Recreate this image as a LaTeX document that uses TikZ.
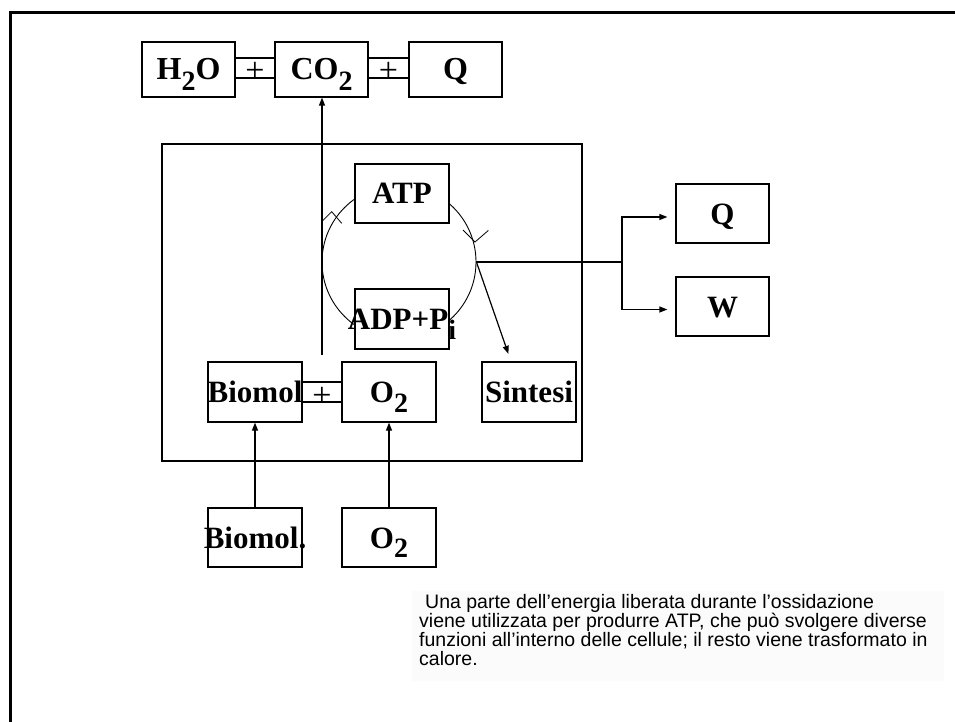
\documentclass[tikz,border=0pt]{standalone}
\usepackage{fontspec}
\setmainfont{Liberation Serif}
\newfontfamily\notefont{Liberation Sans}
\usetikzlibrary{arrows.meta}
\newcommand{\sbx}[1]{\raisebox{-0.32em}{\fontsize{28}{28}\selectfont #1}}
\begin{document}
\begin{tikzpicture}[x=1pt,y=-1pt,
  bx/.style={draw, fill=white, line width=1.2pt, inner sep=0pt, minimum width=94pt, minimum height=60pt,
    text height=21pt, text depth=0pt, font=\fontsize{31}{31}\selectfont\bfseries},
  tbx/.style={bx, minimum width=93pt, minimum height=55pt, text height=21pt,
    font=\fontsize{32}{32}\selectfont\bfseries},
  plusbx/.style={draw, fill=white, line width=1.2pt, inner sep=0pt, minimum height=20pt,
    text height=15pt, text depth=0pt, font=\fontsize{34}{34}\selectfont},
  arr/.style={-{Triangle[length=8pt,width=6pt]}, line width=1.2pt},
  conn/.style={line width=1.2pt},
  chev/.style={line width=0.8pt},
  note/.style={anchor=base west, inner sep=0pt, font=\notefont\fontsize{19.5}{19.5}\selectfont}]
\useasboundingbox (0,0) rectangle (955,722);
% outer frame
\draw[line width=3pt] (10.7,722) -- (10.7,12.2) -- (955,12.2);
% top row
\node[plusbx, minimum width=40pt] (p1) at (255,68) {\raisebox{-6.5pt}{+}};
\node[plusbx, minimum width=41pt] (p2) at (388.5,68) {\raisebox{-6.5pt}{+}};
\node[tbx] (h2o) at (188.5,69.5) {\makebox[0pt]{H\sbx{2}O}};
\node[tbx] (co2) at (321.5,69.5) {\makebox[0pt]{CO\sbx{2}}};
\node[tbx] (qt) at (455.5,69.5) {\makebox[0pt]{Q}};
% cell
\node[draw, line width=1.3pt, minimum width=420pt, minimum height=317pt, inner sep=0pt] (cell) at (372,302.5) {};
\node[draw, circle, line width=0.9pt, minimum size=154pt, inner sep=0pt] (ring) at (399,262) {};
% connectors
\coordinate (vb) at (322,355);
\draw[arr] (vb) -- (vb |- co2.south);
\coordinate (j) at (622,262);
\draw[conn] (ring.east) -- (j);
\node[bx, minimum width=93pt, minimum height=59pt] (qr) at (722.5,213.5) {\makebox[0pt]{Q}};
\node[bx, minimum width=93pt, minimum height=59pt] (w) at (722.5,306.5) {\makebox[0pt]{W}};
\draw[arr, shorten >=8pt] (j) |- ([yshift=-3.5pt]qr.west);
\draw[arr, shorten >=8pt] (j) |- ([yshift=-3pt]w.west);
\node[plusbx, minimum width=40pt] (p3) at (322,392) {\raisebox{-6.5pt}{+}};
\node[bx] (sin) at (529,392) {\makebox[0pt]{Sintesi}};
\draw[arr, shorten >=8pt] (ring.east) -- ([xshift=-18pt]sin.north);
\draw[chev] (321.7,221.7) -- (331.7,211.7) -- (341.7,223.3);
\draw[chev] (463,230) -- (475,242) -- (488.3,230.5);
% inner boxes
\node[bx, minimum height=59pt] (atp) at (402,193.5) {\makebox[0pt]{ATP}};
\node[bx] (adp) at (402,319) {\makebox[0pt]{ADP+P\sbx{i}}};
\node[bx] (bio) at (255,392) {\makebox[0pt]{Biomol}};
\node[bx] (o2) at (389,392) {\makebox[0pt]{O\sbx{2}}};
% inputs
\node[bx, minimum height=59pt] (bio2) at (255,537.5) {\makebox[0pt]{Biomol.}};
\node[bx, minimum height=59pt] (o2b) at (389,537.5) {\makebox[0pt]{O\sbx{2}}};
\draw[arr] (bio2) -- (bio);
\draw[arr] (o2b) -- (o2);
% caption
\fill[black!1.5] (412,591) rectangle (944,681);
\node[note] (t1) at (425,608) {Una parte dell’energia liberata durante l’ossidazione};
\node[note] (t2) at (419,627) {viene utilizzata per produrre ATP, che può svolgere diverse};
\node[note] (t3) at (419,646) {funzioni all’interno delle cellule; il resto viene trasformato in};
\node[note] (t4) at (419,665) {calore.};
\end{tikzpicture}
\end{document}
